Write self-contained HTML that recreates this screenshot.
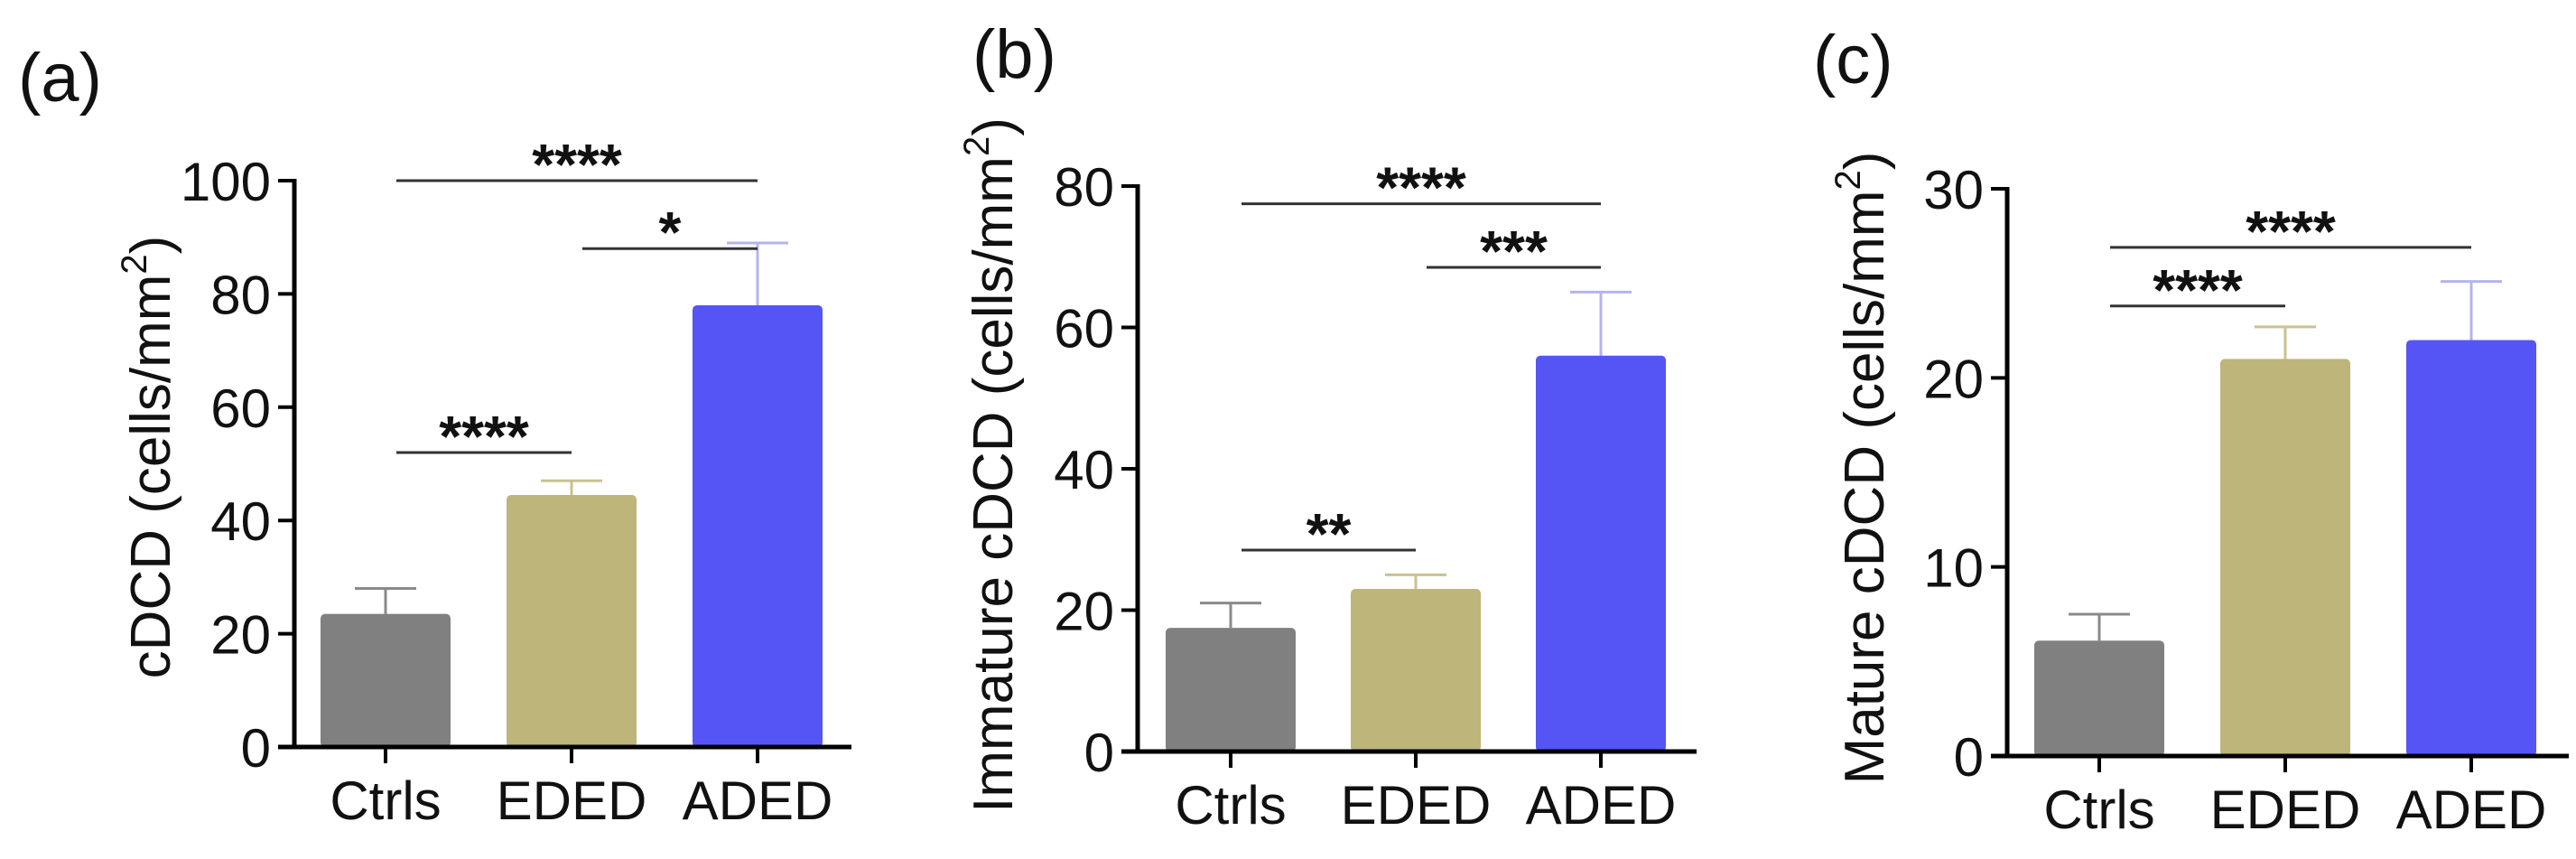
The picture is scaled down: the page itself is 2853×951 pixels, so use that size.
<!DOCTYPE html>
<html><head><meta charset="utf-8"><style>
html,body{margin:0;padding:0;background:#fff;}
svg{display:block;}
text{font-family:"Liberation Sans",Arial,sans-serif;fill:#111;}
</style></head><body>
<svg id="chart" width="2853" height="951" viewBox="0 0 2853 951" xmlns="http://www.w3.org/2000/svg"></svg>
<script>
const categories = ["Ctrls","EDED","ADED"];
const valuesA = [23.5, 44.5, 78];
const errorsA = [28, 47, 89];
const valuesB = [17.5, 23, 56];
const errorsB = [21, 25, 65];
const valuesC = [6.1, 21, 22];
const errorsC = [7.5, 22.7, 25.1];
const ticksA = [0,20,40,60,80,100];
const ticksB = [0,20,40,60,80];
const ticksC = [0,10,20,30];
const sigA = [[0,2,100,"****"],[1,2,88,"*"],[0,1,52,"****"]];
const sigB = [[0,2,77.5,"****"],[1,2,68.5,"***"],[0,1,28.5,"**"]];
const sigC = [[0,2,26.9,"****"],[0,1,23.8,"****"]];

const colors = ["#808080","#bdb57a","#5555f5"];
const errColors = ["#8a8a8a","#c9c291","#b4b4ec"];
const NS = "http://www.w3.org/2000/svg";
const svg = document.getElementById("chart");
function mk(tag, attrs, parent){const e=document.createElementNS(NS,tag);for(const k in attrs)e.setAttribute(k,attrs[k]);(parent||svg).appendChild(e);return e;}

const panels = [
 {id:"a", label:"(a)", lx:20, ly:112, ax:326, y0:827, ymax:200, max:100, xRight:943, x0:427, step:206, vals:valuesA, errs:errorsA, ticks:ticksA, sig:sigA, title:"cDCD (cells/mm", tx:166, ty:506},
 {id:"b", label:"(b)", lx:1077, ly:86, ax:1260, y0:832, ymax:206, max:80, xRight:1879, x0:1363, step:205, vals:valuesB, errs:errorsB, ticks:ticksB, sig:sigB, title:"Immature cDCD (cells/mm", tx:1099, ty:515},
 {id:"c", label:"(c)", lx:2008, ly:92, ax:2223, y0:837, ymax:209, max:30, xRight:2845, x0:2325, step:206, vals:valuesC, errs:errorsC, ticks:ticksC, sig:sigC, title:"Mature cDCD (cells/mm", tx:2064, ty:518}
];

panels.forEach(p=>{
  const g = mk("g",{});
  
  
  const yS = v => p.y0 - (v/p.max)*(p.y0-p.ymax);
  const xS = i => p.x0 + i*p.step;
  const pl = mk("text",{x:p.lx,y:p.ly,"font-size":76},g); pl.textContent=p.label;
  
  
  p.vals.forEach((v,i)=>{
    const cx=xS(i), bw=144;
    const eline = mk("line",{x1:cx,x2:cx,y1:yS(v),y2:yS(p.errs[i]),stroke:errColors[i],"stroke-width":3},g);
    
    
    const cap = mk("line",{x1:cx-34,x2:cx+34,y1:yS(p.errs[i]),y2:yS(p.errs[i]),stroke:errColors[i],"stroke-width":3},g);
    
    
    const r = mk("rect",{x:cx-bw/2,y:yS(v),width:bw,height:p.y0-yS(v),fill:colors[i],rx:5},g);
    
    
  });
  const ya = mk("line",{x1:p.ax,x2:p.ax,y1:p.ymax-2,y2:p.y0+2,stroke:"#000","stroke-width":5},g);
  
  
  const xa = mk("line",{x1:p.ax-18,x2:p.xRight,y1:p.y0,y2:p.y0,stroke:"#000","stroke-width":5},g);
  
  
  p.ticks.forEach(t=>{
    const y=yS(t);
    if(t!==0){const tl=mk("line",{x1:p.ax-18,x2:p.ax,y1:y,y2:y,stroke:"#000","stroke-width":4},g);
    
    }
    const tx=mk("text",{x:p.ax-26,y:y+22,"font-size":60,"text-anchor":"end"},g); tx.textContent=t;
    
    
  });
  categories.forEach((c,i)=>{
    const tl=mk("line",{x1:xS(i),x2:xS(i),y1:p.y0,y2:p.y0+18,stroke:"#000","stroke-width":4},g);
    
    
    const t=mk("text",{x:xS(i),y:p.y0+80,"font-size":60,"text-anchor":"middle"},g); t.textContent=c;
    
    
  });
  const tt=mk("text",{x:p.tx,y:p.ty,"font-size":62,"text-anchor":"middle",transform:`rotate(-90 ${p.tx} ${p.ty})`,dy:22},g);
  
  
  tt.appendChild(document.createTextNode(p.title));
  const sup=mk("tspan",{"font-size":40,dy:-26},tt); sup.textContent="2";
  const cl=mk("tspan",{dy:26},tt); cl.textContent=")";
  p.sig.forEach(s=>{
    const y=yS(s[2]);
    const l=mk("line",{x1:xS(s[0])+12,x2:xS(s[1]),y1:y,y2:y,stroke:"#333","stroke-width":3},g);
    
    
    const st=mk("text",{x:(xS(s[0])+12+xS(s[1]))/2,y:y+4,"font-size":64,"font-weight":"bold","text-anchor":"middle"},g);
    st.textContent=s[3];
    
    
  });
});
</script>
</body></html>
